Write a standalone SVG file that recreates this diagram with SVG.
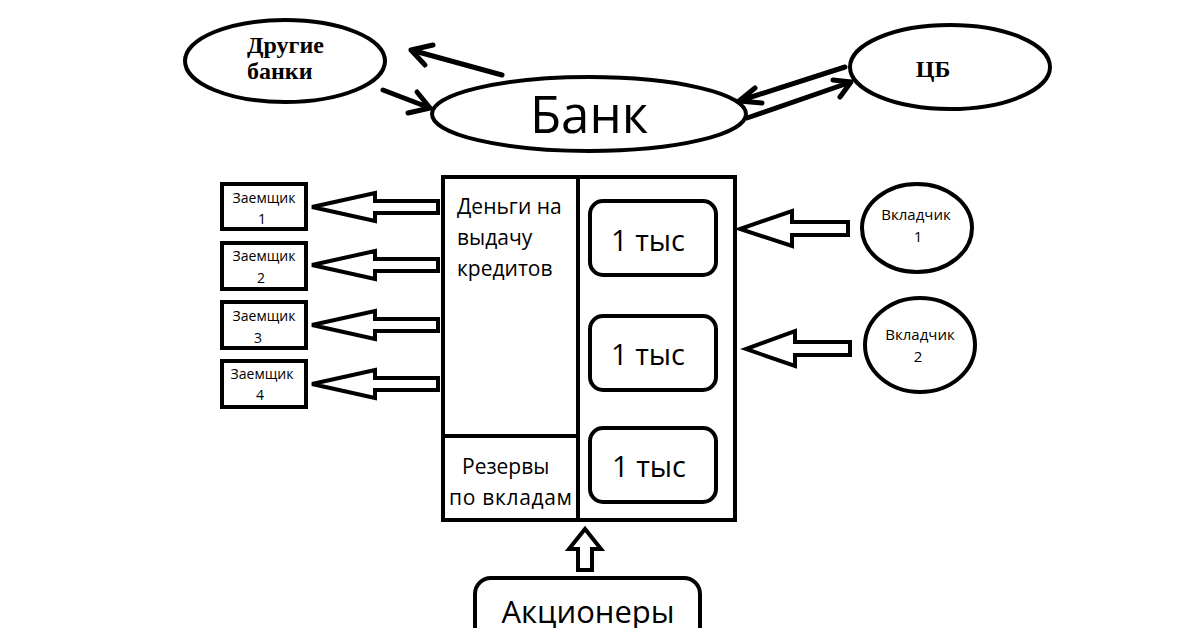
<svg xmlns="http://www.w3.org/2000/svg" width="1200" height="628" viewBox="0 0 1200 628">
<style>
.s{fill:#fff;stroke:#000;stroke-width:4}
.ln{fill:none;stroke:#000;stroke-width:5;stroke-linecap:round;stroke-linejoin:round}
.ha{fill:#fff;stroke:#000;stroke-width:4;stroke-linejoin:miter}
.t{font-family:"Open Sans","Liberation Sans",sans-serif;fill:#000}
.b{font-family:"Liberation Serif",serif;font-weight:bold;fill:#000}
</style>
<rect width="1200" height="628" fill="#fff"/>
<g id="connectors">
<path class="ln" d="M502,75 L411,50 M433,45 L411,50 L425,65"/>
<path class="ln" d="M383,90 L430,108 M417,92 L430,108 L408,113"/>
<path class="ln" d="M845,67 L739,101 M755,88 L739,101 L762,103"/>
<path class="ln" d="M747,118 L851,82 M833,80 L851,82 L840,97"/>
<path class="ha" d="M438,201 L375,201 L375,193 L312,207 L375,221 L375,213 L438,213 Z"/>
<path class="ha" d="M438,259 L375,259 L375,251 L312,265 L375,279 L375,271 L438,271 Z"/>
<path class="ha" d="M438,319 L375,319 L375,311 L312,325 L375,339 L375,331 L438,331 Z"/>
<path class="ha" d="M438,378 L375,378 L375,370 L312,384 L375,398 L375,390 L438,390 Z"/>
<path class="ha" d="M848,222 L792,222 L792,211 L740,229 L792,246 L792,235 L848,235 Z"/>
<path class="ha" d="M850,342 L795,342 L795,331 L746,349 L795,366 L795,355 L850,355 Z"/>
<path class="ha" d="M578,570 L578,549 L569,549 L585,529 L601,549 L592,549 L592,570 Z"/>
</g>
<g id="drugie-banki">
<ellipse class="s" cx="285" cy="61" rx="100" ry="41"/>
<text class="b" x="247" y="53" font-size="24">Другие</text>
<text class="b" x="247" y="79" font-size="24">банки</text>
</g>
<g id="bank">
<ellipse class="s" cx="589" cy="114" rx="157" ry="37"/>
<text class="t" x="589" y="133" font-size="51" text-anchor="middle">Банк</text>
</g>
<g id="cb">
<ellipse class="s" cx="950" cy="67" rx="100" ry="42"/>
<text class="b" x="933" y="77" font-size="24" text-anchor="middle">ЦБ</text>
</g>
<g id="balance">
<rect class="s" x="443" y="177" width="292" height="343"/>
<line x1="578" y1="177" x2="578" y2="520" stroke="#000" stroke-width="4"/>
<line x1="443" y1="436" x2="578" y2="436" stroke="#000" stroke-width="4"/>
<text class="t" font-size="21"><tspan x="457" y="214">Деньги на</tspan><tspan x="457" y="245">выдачу</tspan><tspan x="457" y="276">кредитов</tspan></text>
<text class="t" font-size="21"><tspan x="462" y="474">Резервы</tspan><tspan x="449" y="505" textLength="123">по вкладам</tspan></text>
</g>
<g id="t1"><rect class="s" x="590" y="201" width="126" height="74" rx="13"/><text class="t" x="648" y="251" font-size="29" text-anchor="middle">1 тыс</text></g>
<g id="t2"><rect class="s" x="590" y="316" width="126" height="74" rx="13"/><text class="t" x="648" y="365" font-size="29" text-anchor="middle">1 тыс</text></g>
<g id="t3"><rect class="s" x="590" y="428" width="126" height="74" rx="13"/><text class="t" x="649" y="477" font-size="29" text-anchor="middle">1 тыс</text></g>
<g id="z1"><rect class="s" x="222" y="184" width="84" height="45"/><text class="t" font-size="14" text-anchor="middle"><tspan x="264" y="203">Заемщик</tspan><tspan x="262" y="224">1</tspan></text></g>
<g id="z2"><rect class="s" x="222" y="243" width="84" height="46"/><text class="t" font-size="14" text-anchor="middle"><tspan x="264" y="261">Заемщик</tspan><tspan x="261" y="283">2</tspan></text></g>
<g id="z3"><rect class="s" x="222" y="302" width="84" height="46"/><text class="t" font-size="14" text-anchor="middle"><tspan x="264" y="321">Заемщик</tspan><tspan x="258" y="343">3</tspan></text></g>
<g id="z4"><rect class="s" x="222" y="361" width="84" height="46"/><text class="t" font-size="14" text-anchor="middle"><tspan x="262" y="379">Заемщик</tspan><tspan x="260" y="400">4</tspan></text></g>
<g id="v1"><ellipse class="s" cx="917" cy="228" rx="55" ry="44"/><text class="t" font-size="15" text-anchor="middle"><tspan x="916" y="220">Вкладчик</tspan><tspan x="918" y="242">1</tspan></text></g>
<g id="v2"><ellipse class="s" cx="920" cy="345" rx="55" ry="47"/><text class="t" font-size="15" text-anchor="middle"><tspan x="920" y="340">Вкладчик</tspan><tspan x="918" y="362">2</tspan></text></g>
<g id="akcionery"><rect class="s" x="475" y="578" width="225" height="80" rx="16"/><text class="t" x="588" y="623" font-size="31" text-anchor="middle">Акционеры</text></g>
</svg>
